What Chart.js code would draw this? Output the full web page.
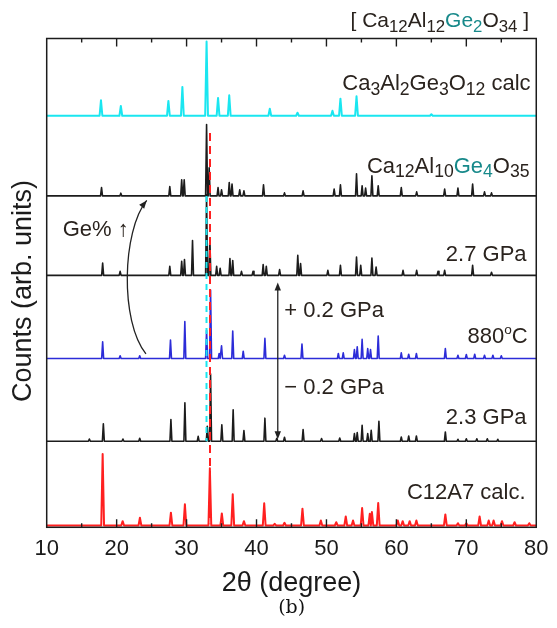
<!DOCTYPE html>
<html>
<head>
<meta charset="utf-8">
<script src="https://cdn.jsdelivr.net/npm/chart.js@4.4.1/dist/chart.umd.min.js"></script>
<style>
  html, body { margin: 0; padding: 0; background: #fff; }
  canvas { display: block; }
</style>
</head>
<body>
<canvas id="xrd" width="557" height="628"></canvas>
<script>
// Peak positions (2θ, degree) and peak heights (arb. units) of each pattern, top to bottom
const garnetPos = [17.76, 20.6, 27.4, 29.4, 32.86, 34.5, 36.1, 41.9, 45.86, 50.86, 52.0, 54.3, 65.0];
const garnetInt = [15.3, 9.7, 14.7, 28.7, 73.7, 17.7, 20.3, 7, 3, 5, 17, 19.3, 1.5];

const ge4Pos = [17.84, 20.6, 27.6, 29.3, 29.66, 32.86, 33.23, 34.5, 35.0, 36.1, 36.5, 37.6, 38.2, 41.0, 44.0,
  46.66, 51.1, 52.0, 54.3, 55.1, 55.6, 56.5, 57.4, 60.7, 62.9, 66.9, 68.8, 70.9, 72.6, 73.6];
const ge4Int = [8.3, 2.7, 9.3, 16, 16, 71, 28, 8.3, 6, 13.3, 11.7, 6, 5, 11, 3,
  5, 6.7, 11, 22, 10, 7.7, 20, 10, 8.3, 4, 6.7, 7.7, 11.7, 4, 3];

const gpa27Pos = [18.0, 20.5, 27.6, 29.3, 29.7, 30.85, 32.86, 33.33, 34.3, 34.8, 36.2, 36.6, 37.85, 39.5, 40.95,
  41.4, 43.3, 45.9, 46.3, 50.2, 52.0, 54.3, 54.9, 56.5, 57.1, 60.95, 62.9, 65.95, 66.9, 70.9, 73.6];
const gpa27Int = [12.3, 4, 9, 14, 15.7, 34.7, 80, 36, 9, 7, 16.7, 14.7, 4, 4, 10.7,
  9, 5.7, 20, 11.7, 5, 10, 18.3, 10, 17.3, 8.3, 5, 5, 4, 5, 10, 3];

const t880Pos = [18.0, 20.5, 23.3, 27.7, 29.75, 32.86, 33.43, 34.66, 35.0, 36.6, 38.1, 41.2, 44.0, 46.5, 51.7,
  52.4, 54.0, 54.4, 55.1, 55.9, 56.3, 57.4, 60.7, 61.76, 62.86, 67.0, 68.8, 70.0, 71.2, 72.6, 73.8, 75.0];
const t880Int = [16.7, 2.7, 2.7, 18.3, 36.7, 28, 68, 5, 12.7, 27.3, 7.3, 20, 3.3, 14.3, 5,
  5.7, 9, 11.7, 19, 10, 9, 22.3, 5.7, 4.3, 5, 10, 3.3, 4, 4.3, 3.3, 3.3, 2.7];

const gpa23Pos = [16.1, 18.1, 20.9, 23.3, 27.76, 29.76, 31.66, 32.96, 33.43, 35.04, 36.66, 38.2, 41.2, 42.9, 44.0,
  46.66, 49.3, 51.9, 54.0, 54.4, 55.1, 55.9, 56.4, 57.5, 60.7, 61.76, 62.86, 67.0, 68.8, 70.0, 71.5, 73.0, 74.5];
const gpa23Int = [2.3, 17.3, 2.3, 3, 21.7, 38.3, 5, 15, 67, 16.3, 31.3, 10.7, 23, 3, 4,
  11.7, 2.7, 3.3, 7.7, 8.7, 16, 7.7, 11, 20, 4.3, 5.3, 5.3, 9.3, 2, 2.5, 2.5, 2.5, 2];

const c12a7Pos = [18.0, 20.86, 23.33, 27.76, 29.76, 33.33, 35.04, 36.6, 38.2, 41.1, 42.6, 44.0, 46.57, 49.2, 51.4,
  52.76, 53.8, 55.1, 56.2, 56.5, 57.4, 60.2, 60.9, 61.9, 62.86, 67.0, 68.8, 70.0, 71.9, 73.2, 73.9, 75.1, 76.9, 79.0];
const c12a7Int = [71, 4.3, 7.7, 12.7, 21, 57, 12, 31, 4.3, 22, 1.7, 2.7, 16.7, 5, 3.3,
  9, 5, 17.3, 11.7, 13.3, 22.3, 5, 4.3, 4.3, 5, 11, 2.3, 2.3, 9, 5, 5, 4.3, 3.3, 2.3];

// vertical offsets of the stacked patterns
const baseLevels = [409.2, 329.5, 250.5, 167.8, 85.5, 1.8];

// 2θ of the dashed guide lines
const c12a7Main = 33.35;
const garnetMain = 32.85;

const xTicks = [10, 20, 30, 40, 50, 60, 70, 80];

const RED = '#ff2020', CYAN = '#1ae6f0', BLUE = '#2c2cd8', BLACK = '#1c1c1c';
const TEXT = '#2a231e', TEAL = '#17898a';
const SANS = '"Liberation Sans", Arial, sans-serif';

// turn a peak list into a spiky line profile sitting on its base level
function profile(pos, inten, base, hw) {
  const pts = [{x: 10, y: base}];
  pos.forEach((p, i) => {
    const left = i > 0 ? Math.max(p - hw, (pos[i - 1] + p) / 2) : p - hw;
    const right = i < pos.length - 1 ? Math.min(p + hw, (p + pos[i + 1]) / 2) : p + hw;
    pts.push({x: left, y: base}, {x: p, y: base + inten[i]}, {x: right, y: base});
  });
  pts.push({x: 80, y: base});
  return pts;
}

function trace(pos, inten, base, color, width, hw) {
  return {
    data: profile(pos, inten, base, hw),
    borderColor: color,
    borderWidth: width,
    pointRadius: 0,
    tension: 0,
    borderJoinStyle: 'round'
  };
}

function guide(x, y0, y1, color, dash) {
  return {
    data: [{x: x, y: y0}, {x: x, y: y1}],
    borderColor: color,
    borderWidth: 2,
    borderDash: dash,
    pointRadius: 0
  };
}

// text labels: [segment, kind, colour]
const notes = [
  {x: 78.97, y: 497, align: 'right', size: 21, parts: [['[ Ca'], ['12', 'sub'], ['Al'], ['12', 'sub'], ['Ge', '', TEAL], ['2', 'sub', TEAL], ['O'], ['34', 'sub'], [' ]']]},
  {x: 79.19, y: 434.5, align: 'right', size: 22, parts: [['Ca'], ['3', 'sub'], ['Al'], ['2', 'sub'], ['Ge'], ['3', 'sub'], ['O'], ['12', 'sub'], [' calc']]},
  {x: 79.04, y: 352.5, align: 'right', size: 22, parts: [['Ca'], ['12', 'sub'], ['Al'], ['10', 'sub'], ['Ge', '', TEAL], ['4', 'sub', TEAL], ['O'], ['35', 'sub']]},
  {x: 78.61, y: 264.5, align: 'right', size: 22, parts: [['2.7 GPa']]},
  {x: 43.97, y: 209.5, align: 'left', size: 22, parts: [['+ 0.2 GPa']]},
  {x: 78.76, y: 182.8, align: 'right', size: 22, parts: [['880'], ['o', 'sup'], ['C']]},
  {x: 43.97, y: 132.5, align: 'left', size: 22, parts: [['\u2212 0.2 GPa']]},
  {x: 78.61, y: 102.8, align: 'right', size: 22, parts: [['2.3 GPa']]},
  {x: 78.47, y: 28.5, align: 'right', size: 22, parts: [['C12A7 calc.']]},
  {x: 12.29, y: 289.5, align: 'left', size: 22, parts: [['Ge% \u2191']]}
];

function drawRich(ctx, note, px, py) {
  const s = note.size;
  const fontOf = kind => (kind === 'sub' ? 0.8 * s : kind === 'sup' ? 0.62 * s : s) + 'px ' + SANS;
  const widths = note.parts.map(([t, kind]) => { ctx.font = fontOf(kind); return ctx.measureText(t).width; });
  let cx = note.align === 'right' ? px - widths.reduce((a, b) => a + b, 0) : px;
  ctx.textAlign = 'left';
  ctx.textBaseline = 'alphabetic';
  note.parts.forEach(([t, kind, color], i) => {
    ctx.font = fontOf(kind);
    ctx.fillStyle = color || TEXT;
    const dy = kind === 'sub' ? 0.2 * s : kind === 'sup' ? -0.42 * s : 0;
    ctx.fillText(t, cx, py + dy);
    cx += widths[i];
  });
}

function arrowHead(ctx, x, y, ang, len, half) {
  ctx.save();
  ctx.translate(x, y);
  ctx.rotate(ang);
  ctx.beginPath();
  ctx.moveTo(0, 0);
  ctx.lineTo(-len, -half);
  ctx.lineTo(-len, half);
  ctx.closePath();
  ctx.fill();
  ctx.restore();
}

const decor = {
  id: 'decor',
  afterDraw(chart) {
    const {ctx, chartArea: a, scales: {x, y}} = chart;
    ctx.save();

    // frame
    ctx.strokeStyle = BLACK;
    ctx.lineWidth = 1.5;
    ctx.strokeRect(a.left, a.top, a.right - a.left, a.bottom - a.top);

    // inward ticks on top and bottom
    ctx.lineWidth = 1.4;
    for (let v = 15; v < 80; v += 5) {
      const px = x.getPixelForValue(v);
      const len = v % 10 === 0 ? 8 : 4;
      ctx.beginPath();
      ctx.moveTo(px, a.bottom); ctx.lineTo(px, a.bottom - len);
      ctx.moveTo(px, a.top); ctx.lineTo(px, a.top + len);
      ctx.stroke();
    }

    // pressure arrow
    ctx.strokeStyle = '#222';
    ctx.fillStyle = '#222';
    ctx.lineWidth = 1.3;
    const ax = x.getPixelForValue(43.04);
    const yTop = y.getPixelForValue(243.5), yBot = y.getPixelForValue(87.5);
    ctx.beginPath();
    ctx.moveTo(ax, yTop + 6); ctx.lineTo(ax, yBot - 6);
    ctx.stroke();
    arrowHead(ctx, ax, yTop, -Math.PI / 2, 8, 3.2);
    arrowHead(ctx, ax, yBot, Math.PI / 2, 8, 3.2);

    // curved Ge% arrow
    const P = [[24.19, 172.5], [20.47, 204.5], [20.76, 294.5], [24.3, 325]]
      .map(([u, v]) => [x.getPixelForValue(u), y.getPixelForValue(v)]);
    ctx.beginPath();
    ctx.moveTo(P[0][0], P[0][1]);
    ctx.bezierCurveTo(P[1][0], P[1][1], P[2][0], P[2][1], P[3][0], P[3][1]);
    ctx.stroke();
    arrowHead(ctx, P[3][0], P[3][1], Math.atan2(P[3][1] - P[2][1], P[3][0] - P[2][0]), 8, 3.2);

    // labels
    notes.forEach(n => drawRich(ctx, n, x.getPixelForValue(n.x), y.getPixelForValue(n.y)));

    // y axis title
    ctx.translate(24, 291);
    ctx.rotate(-Math.PI / 2);
    ctx.font = '27px ' + SANS;
    ctx.fillStyle = BLACK;
    ctx.textAlign = 'center';
    ctx.textBaseline = 'middle';
    ctx.fillText('Counts (arb. units)', 0, 0);
    ctx.restore();
  }
};

new Chart(document.getElementById('xrd'), {
  type: 'line',
  data: {
    datasets: [
      guide(c12a7Main, 392, 4, RED, [8, 5]),
      guide(garnetMain, 329.5, 85.5, CYAN, [6, 5]),
      trace(garnetPos, garnetInt, baseLevels[0], CYAN, 2, 0.2),
      trace(ge4Pos, ge4Int, baseLevels[1], BLACK, 1.6, 0.14),
      trace(gpa27Pos, gpa27Int, baseLevels[2], BLACK, 1.6, 0.14),
      trace(t880Pos, t880Int, baseLevels[3], BLUE, 1.6, 0.14),
      trace(gpa23Pos, gpa23Int, baseLevels[4], BLACK, 1.6, 0.14),
      trace(c12a7Pos, c12a7Int, baseLevels[5], RED, 2, 0.2)
    ]
  },
  options: {
    responsive: false,
    animation: false,
    devicePixelRatio: 1,
    layout: {padding: {left: 46.7, right: 20.3, top: 38.5, bottom: 0}},
    plugins: {
      legend: {display: false},
      tooltip: {enabled: false},
      title: {
        display: true,
        text: '(b)',
        position: 'bottom',
        color: '#111',
        font: {family: '"DejaVu Serif", serif', size: 19, weight: 'normal'},
        padding: {top: 0, bottom: 8.4}
      }
    },
    scales: {
      x: {
        type: 'linear',
        min: 10,
        max: 80,
        afterBuildTicks: axis => { axis.ticks = xTicks.map(v => ({value: v})); },
        grid: {display: false, drawTicks: false},
        border: {display: false},
        ticks: {color: '#1a1a1a', padding: 8.5, font: {family: SANS, size: 22}},
        title: {
          display: true,
          text: '2\u03b8 (degree)',
          color: '#1a1a1a',
          font: {family: SANS, size: 27},
          padding: {top: -3.3, bottom: -3}
        }
      },
      y: {display: false, min: 0, max: 486}
    }
  },
  plugins: [decor]
});
</script>
</body>
</html>
